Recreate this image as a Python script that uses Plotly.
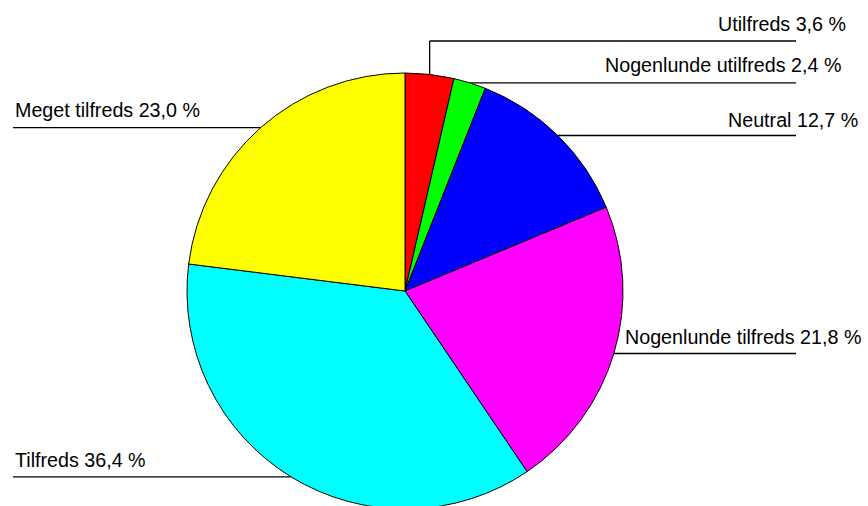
import math
import plotly.graph_objects as go

# ---- data ----
labels = ["Utilfreds", "Nogenlunde utilfreds", "Neutral",
          "Nogenlunde tilfreds", "Tilfreds", "Meget tilfreds"]
values = [3.6, 2.4, 12.7, 21.8, 36.4, 23.0]
colors = ["#FF0000", "#00FF00", "#0000FF", "#FF00FF", "#00FFFF", "#FFFF00"]

# ---- geometry (pixels) ----
# figure is slightly taller than the window so the pie bottom is clipped like the reference
W, H = 868, 510
cx, r, top = 405, 218, 73
cy = top + r

def px(x):
    return x / W

def py(y):
    return 1 - y / H

# label placement: (side, text x anchor, text y, elbow y or None)
placement = {
    "Utilfreds": ("right", 848, 24, 41),
    "Nogenlunde utilfreds": ("right", 843, 65, None),
    "Neutral": ("right", 860, 120, None),
    "Nogenlunde tilfreds": ("right", 863, 337, None),
    "Tilfreds": ("left", 13, 460, None),
    "Meget tilfreds": ("left", 13, 110, None),
}
line_right_end = 796
line_left_start = 13

fig = go.Figure(go.Pie(
    labels=labels, values=values, sort=False, direction="clockwise", rotation=0,
    marker=dict(colors=colors, line=dict(color="black", width=1)),
    textinfo="none", hoverinfo="none", showlegend=False,
    domain=dict(x=[px(cx - r), px(cx + r)], y=[py(top + 2 * r), py(top)]),
))

total = sum(values)
cum = 0.0
shapes = []
annotations = []
font = dict(family="Arial, Liberation Sans, sans-serif", size=19.7, color="black")
lstyle = dict(color="black", width=1.3)
for lab, v in zip(labels, values):
    theta = 2 * math.pi * (cum + v / 2) / total
    cum += v
    ex = cx + r * math.sin(theta)
    ey = cy - r * math.cos(theta)
    side, tx, ty, elbow = placement[lab]
    text = f"{lab} {v:.1f} %".replace(".", ",")
    if side == "right":
        if elbow is not None:
            shapes.append(dict(type="line", xref="paper", yref="paper",
                               x0=px(ex), y0=py(ey), x1=px(ex), y1=py(elbow), line=lstyle))
            ly = elbow
        else:
            ly = ey
        shapes.append(dict(type="line", xref="paper", yref="paper",
                           x0=px(ex), y0=py(ly), x1=px(line_right_end), y1=py(ly), line=lstyle))
        annotations.append(dict(x=px(tx), y=py(ty), xref="paper", yref="paper",
                                text=text, showarrow=False, xanchor="right",
                                yanchor="middle", font=font))
    else:
        shapes.append(dict(type="line", xref="paper", yref="paper",
                           x0=px(line_left_start), y0=py(ey), x1=px(ex), y1=py(ey), line=lstyle))
        annotations.append(dict(x=px(tx), y=py(ty), xref="paper", yref="paper",
                                text=text, showarrow=False, xanchor="left",
                                yanchor="middle", font=font))

fig.update_layout(
    width=W, height=H,
    margin=dict(l=0, r=0, t=0, b=0),
    paper_bgcolor="white", plot_bgcolor="white",
    shapes=shapes, annotations=annotations,
)
fig.write_html("out.html", config={"displayModeBar": False},
               post_script="document.body.style.margin='0';document.body.style.overflow='hidden';")
